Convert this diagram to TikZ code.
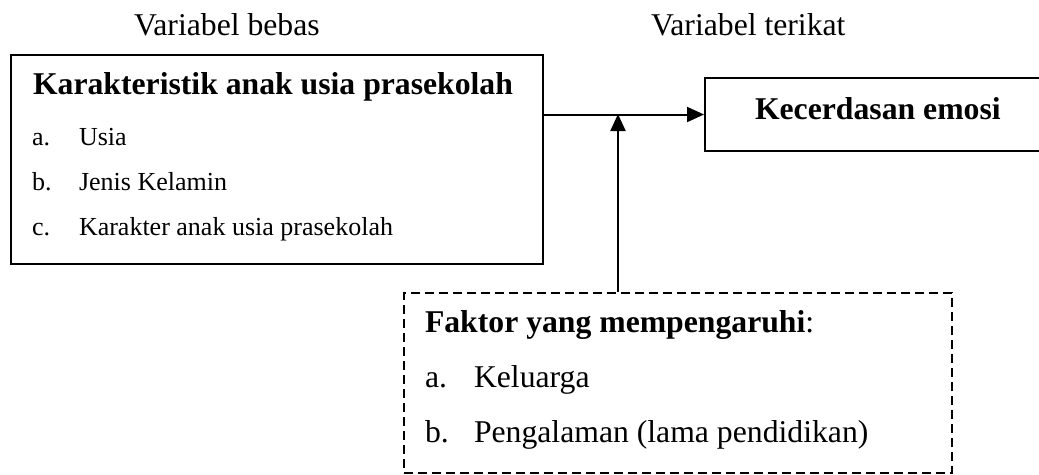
\documentclass[tikz,border=0pt]{standalone}
\usepackage{fontspec}
\setmainfont{Liberation Serif}
\usetikzlibrary{arrows.meta,positioning}

\begin{document}
\begin{tikzpicture}[x=1pt,y=-1pt,line width=2pt,
    >={Triangle[length=17pt,width=15pt]}]
  \tikzstyle{boxS}=[draw,rectangle,anchor=north west,inner sep=0pt]
  \tikzstyle{dashS}=[boxS,dash pattern=on 9pt off 5pt]
  \tikzstyle{bigT}=[anchor=base west,inner sep=0pt,font=\fontsize{31.7}{38}\selectfont]
  \tikzstyle{bigB}=[bigT,font=\fontsize{31.7}{38}\selectfont\bfseries]
  \tikzstyle{smallT}=[anchor=base west,inner sep=0pt,font=\fontsize{26}{31}\selectfont]

  \clip (0,0) rectangle (1039,474);

  % kotak
  \node[boxS,minimum width=532pt,minimum height=209pt] (karakter) at (10,54) {};
  \node[boxS,minimum width=346pt,minimum height=73pt]  (emosi)    at (704,77) {};
  \node[dashS,minimum width=548pt,minimum height=180pt] (faktor)  at (403,292) {};

  % judul variabel
  \node[bigT] (bebas)   at (133,35) {Variabel bebas};
  \node[bigT] (terikat) at (650,35) {Variabel terikat};

  % isi kotak
  \node[bigB] (judulK) at (32,94) {Karakteristik anak usia prasekolah};
  \foreach \lbl/\txt [count=\i] in {a./Usia, b./Jenis Kelamin, c./Karakter anak usia prasekolah} {
    \node[smallT] (hk\i) at (31,100+45*\i) {\lbl};
    \node[smallT] (ik\i) at (78,100+45*\i) {\txt};
  }
  \node[bigB] (judulE) at (754,119) {Kecerdasan emosi};
  \node[bigT] (judulF) at (424,332) {\textbf{Faktor yang mempengaruhi}:};
  \foreach \lbl/\txt [count=\i] in {a./Keluarga, b./Pengalaman (lama pendidikan)} {
    \node[bigT] (hf\i) at (424,332+55*\i) {\lbl};
    \node[bigT] (if\i) at (473,332+55*\i) {\txt};
  }

  % panah
  \coordinate (temu) at (618,114);
  \draw[->] (karakter.east |- emosi.west) -- (emosi.west);
  \draw[->] (faktor.north -| temu) -- (temu);
\end{tikzpicture}
\end{document}
